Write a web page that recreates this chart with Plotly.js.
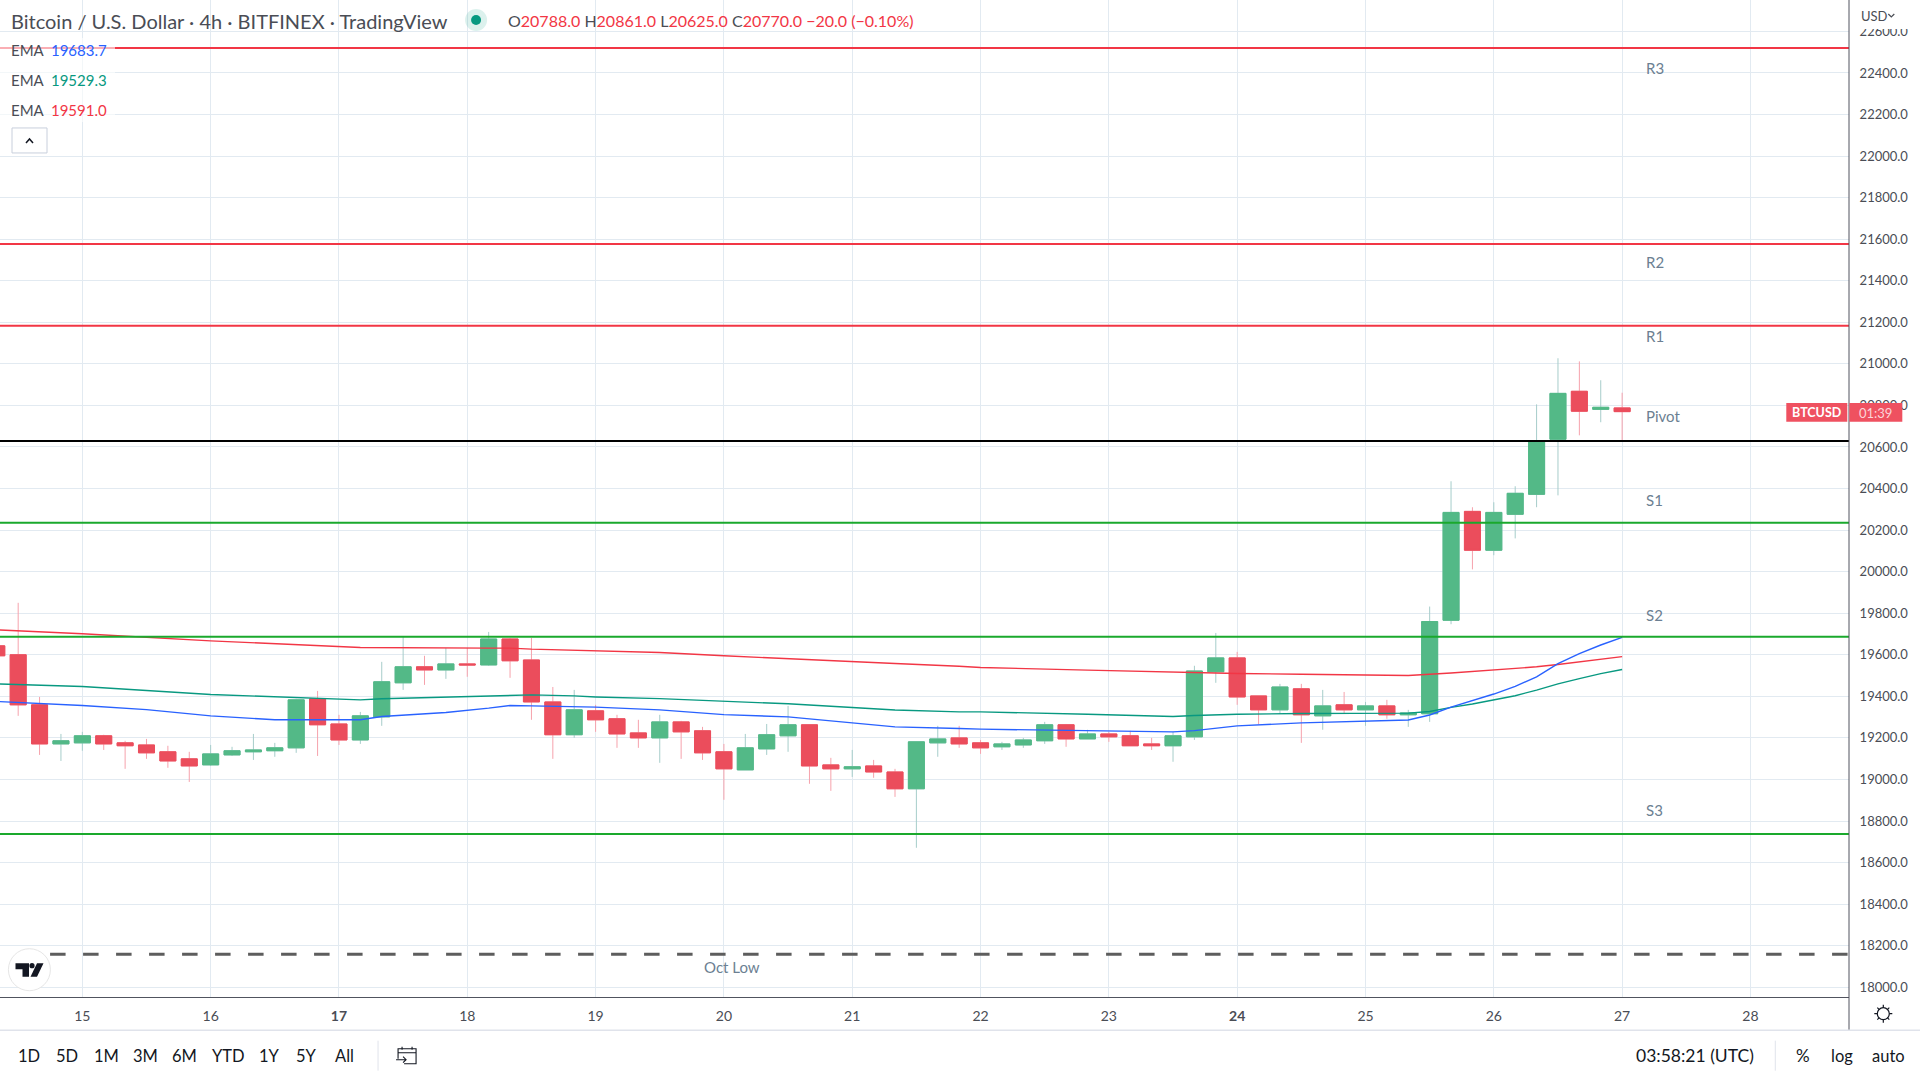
<!DOCTYPE html>
<html>
<head>
<meta charset="utf-8">
<script src="https://cdn.plot.ly/plotly-3.0.1.min.js"></script>
<style>html,body{margin:0;padding:0;background:#fff;overflow:hidden}#chart{width:1920px;height:1080px}</style>
</head>
<body>
<div id="chart"></div>
<script>
// 4h bars, first bar is 2022-10-14 08:00 UTC
const firstBar = Date.UTC(2022, 9, 14, 8);
const open  = [19643,19600,19359,19171,19176,19210,19176,19166,19133,19099,19070,19118,19133,19138,19152,19388,19267,19190,19301,19465,19542,19527,19556,
  19551,19676,19575,19373,19215,19330,19292,19224,19200,19277,19234,19133,19046,19147,19210,19263,19070,19051,19065,19036,18955,19176,19200,
  19176,19157,19166,19186,19263,19195,19219,19210,19171,19162,19205,19518,19585,19402,19335,19436,19306,19359,19335,19354,19311,19316,19766,20290,20103,20276,20372,20637,20868,20781,20788];
const high  = [19660,19850,19397,19219,19229,19215,19186,19195,19162,19133,19166,19157,19219,19176,19388,19426,19311,19325,19566,19690,19595,19633,19633,
  19710,19681,19681,19445,19431,19359,19311,19287,19311,19282,19253,19171,19219,19267,19354,19263,19104,19142,19094,19051,19181,19258,19258,
  19190,19181,19200,19277,19267,19239,19229,19234,19200,19229,19547,19705,19614,19402,19460,19460,19431,19421,19373,19383,19335,19832,20435,20310,20334,20411,20805,21027,21012,20921,20861];
const low   = [19580,19306,19118,19089,19138,19142,19051,19099,19056,18988,19065,19113,19094,19109,19128,19113,19166,19171,19258,19431,19455,19484,19494,
  19547,19489,19287,19099,19200,19229,19152,19152,19080,19099,19094,18902,19046,19118,19133,18979,18945,19012,19008,18916,18671,19109,19152,
  19123,19142,19152,19171,19157,19195,19181,19162,19142,19085,19190,19465,19359,19265,19316,19176,19239,19316,19258,19292,19253,19277,19747,20011,20079,20160,20310,20367,20656,20719,20625];
const close = [19595,19359,19171,19186,19210,19171,19162,19128,19089,19065,19123,19138,19142,19152,19383,19263,19190,19306,19470,19542,19527,19556,19551,
  19676,19571,19373,19215,19335,19287,19219,19200,19277,19229,19128,19051,19152,19215,19263,19065,19051,19061,19036,18955,19181,19195,19171,
  19152,19171,19190,19263,19195,19219,19205,19162,19162,19210,19522,19585,19397,19335,19445,19311,19354,19335,19354,19311,19320,19760,20285,20103,20285,20377,20629,20858,20772,20791,20770];

// EMA readings: bar number (0 = first bar) and value
const emaBlueBars  = [0,4,7,10,13,17,18,21,23,24,25,28,31,34,37,40,42,45,46,55,56,58,59,61,66,67,68,69,70,71,72,73,74,75,76];
const emaBlue      = [19375,19356,19336,19306,19287,19287,19303,19322,19343,19356,19354,19348,19335,19312,19301,19272,19253,19245,19242,19229,19235,19258,19263,19272,19286,19310,19348,19380,19411,19448,19494,19557,19605,19647,19683.7];
const emaGreenBars = [0,4,10,14,17,18,23,25,27,28,31,34,37,40,42,45,46,51,55,56,58,61,64,66,67,68,69,70,71,72,73,74,75,76];
const emaGreen     = [19460,19447,19409,19393,19383,19388,19404,19407,19402,19397,19389,19377,19364,19346,19334,19325,19325,19314,19303,19308,19314,19317,19319,19319,19327,19347,19363,19383,19403,19430,19460,19485,19509,19529.3];
const emaRedBars   = [0,4,10,17,23,24,25,28,31,34,37,40,42,45,46,51,54,56,58,61,64,66,68,70,72,73,74,75,76];
const emaRed       = [19720,19701,19667,19635,19632,19632,19627,19619,19611,19595,19580,19566,19558,19545,19539,19526,19518,19514,19510,19506,19501,19500,19512,19526,19542,19553,19566,19581,19591];

const levelNames  = ['R3','R2','R1','Pivot','S1','S2','S3','Oct Low'];
const levelValues = [22520,21577,21183,20629,20235,19687,18738,18159];
const levelColors = ['#f23645','#f23645','#f23645','#000000','#1aa92c','#1aa92c','#1aa92c','#5d5d5d'];
const labelValues = [22426,21490,21136,20748,20346,19792,18851,18095];

const dayTickVals = ['2022-10-15','2022-10-16','2022-10-17','2022-10-18','2022-10-19','2022-10-20','2022-10-21','2022-10-22','2022-10-23','2022-10-24','2022-10-25','2022-10-26','2022-10-27','2022-10-28'];
const dayTickText = ['15','16','<b>17</b>','18','19','20','21','22','23','<b>24</b>','25','26','27','28'];
const priceTicks  = [18000,18200,18400,18600,18800,19000,19200,19400,19600,19800,20000,20200,20400,20600,20800,21000,21200,21400,21600,21800,22000,22200,22400,22600];
const rangeButtons = ['1D','5D','1M','3M','6M','YTD','1Y','5Y','All'];
const rangeCenters = [29,67,106,145,184,228,269,306,344];

const FONT = 'Lato, "Noto Sans", sans-serif';
const W = 1848.7, H = 997.3;
const X = p => p / W, Y = p => 1 - p / H;
const barTime = i => new Date(firstBar + i * 4 * 3600e3).toISOString().slice(0, 16).replace('T', ' ');
const dates = open.map((_, i) => barTime(i));
const xStart = '2022-10-14 08:36', xEnd = '2022-10-28 18:26';
const bodyHigh = open.map((o, i) => Math.max(o, close[i]));
const bodyLow  = open.map((o, i) => Math.min(o, close[i]));

const GREEN = '#53b987', RED = '#eb4d5c', WICKG = '#a6cdca', WICKR = '#f6a2ac';

const emaTrace = (bars, vals, color) => ({type:'scatter', mode:'lines', x:bars.map(barTime), y:vals, line:{color, width:1.4}, hoverinfo:'skip', showlegend:false});
const traces = [
  emaTrace(emaRedBars, emaRed, '#f23645'),
  emaTrace(emaGreenBars, emaGreen, '#089981'),
  emaTrace(emaBlueBars, emaBlue, '#2962ff'),
  {type:'candlestick', x:dates, open, high, low, close, whiskerwidth:0, hoverinfo:'skip', showlegend:false,
   increasing:{line:{color:WICKG, width:1}, fillcolor:GREEN}, decreasing:{line:{color:WICKR, width:1}, fillcolor:RED}},
  {type:'candlestick', x:dates, open, high:bodyHigh, low:bodyLow, close, whiskerwidth:0, hoverinfo:'skip', showlegend:false,
   increasing:{line:{color:GREEN, width:1}, fillcolor:GREEN}, decreasing:{line:{color:RED, width:1}, fillcolor:RED}}
];
levelNames.forEach((n, i) => {
  const dashed = n === 'Oct Low';
  traces.push({type:'scatter', mode:'lines', x: dashed ? ['2022-10-14 17:58', xEnd] : [xStart, xEnd], y:[levelValues[i], levelValues[i]],
    line:{color:levelColors[i], width: dashed ? 3 : 2, dash: dashed ? '15.5px,17.5px' : 'solid'}, hoverinfo:'skip', showlegend:false});
});

const ann = (text, px, py, o = {}) => Object.assign({text, x:X(px), y:Y(py), xref:'paper', yref:'paper', showarrow:false,
  xanchor:'left', yanchor:'middle', font:{family:FONT, size:15, color:'#131722'}, borderpad:0}, o);

const annotations = [];
levelNames.forEach((n, i) => {
  const oct = n === 'Oct Low';
  annotations.push({text:n, x: oct ? '2022-10-20 01:30' : '2022-10-27 04:00', y:labelValues[i], xref:'x', yref:'y', showarrow:false,
    xanchor: oct ? 'center' : 'left', yanchor:'middle', font:{family:FONT, size:15, color:'#6c7f92'}});
});
const R = '#f23645';
const val = (t, c) => `<span style="color:${c}">${t}</span>`;
annotations.push(
  ann('Bitcoin / U.S. Dollar · 4h · BITFINEX · TradingView', 10, 21, {font:{family:FONT, size:20, color:'#4a4d55'}}),
  ann('O' + val('20788.0', R) + ' H' + val('20861.0', R) + ' L' + val('20625.0', R) + ' C' + val('20770.0', R) + ' ' + val('−20.0 (−0.10%)', R), 507, 21, {font:{family:FONT, size:16, color:'#4a4d55'}}),
  ann('EMA  ' + val('19683.7', '#2962ff'), 10, 50.5, {font:{family:FONT, size:15, color:'#4a4d55'}}),
  ann('EMA  ' + val('19529.3', '#089981'), 10, 80.5, {font:{family:FONT, size:15, color:'#4a4d55'}}),
  ann('EMA  ' + val('19591.0', R), 10, 110, {font:{family:FONT, size:15, color:'#4a4d55'}}),
  ann('USD', 1860, 16, {font:{family:FONT, size:13, color:'#4a4d55'}}),
  ann('<b>BTCUSD</b>', 1816.5, 413, {xanchor:'center', font:{family:FONT, size:12.5, color:'#ffffff'}}),
  ann('01:39', 1875, 413, {xanchor:'center', font:{family:FONT, size:13, color:'#fbd5d9'}}),
  ann('03:58:21 (UTC)', 1695, 1056, {xanchor:'center', font:{family:FONT, size:17.5, color:'#131722'}}),
  ann('%', 1803, 1056, {xanchor:'center', font:{family:FONT, size:17, color:'#131722'}}),
  ann('log', 1842, 1056, {xanchor:'center', font:{family:FONT, size:16.5, color:'#131722'}}),
  ann('auto', 1888, 1056, {xanchor:'center', font:{family:FONT, size:16.5, color:'#131722'}})
);
rangeButtons.forEach((b, i) => annotations.push(ann(b, rangeCenters[i], 1056, {xanchor:'center', font:{family:FONT, size:16.5, color:'#131722'}})));

const rect = (x0, y0, x1, y1, fill, line) => ({type:'rect', xref:'paper', yref:'paper', x0:X(x0), x1:X(x1), y0:Y(y0), y1:Y(y1), fillcolor:fill, line:line || {width:0}, layer:'above'});
const circ = (cx, cy, r, fill, line) => ({type:'circle', xref:'paper', yref:'paper', x0:X(cx - r), x1:X(cx + r), y0:Y(cy - r), y1:Y(cy + r), fillcolor:fill, line:line || {width:0}, layer:'above'});
const seg = (pts, color, w, fill) => ({type:'path', xref:'paper', yref:'paper', layer:'above',
  path: pts.map(s => s.map((p, j) => (j ? 'L' : 'M') + X(p[0]) + ',' + Y(p[1])).join(' ') + (fill ? ' Z' : '')).join(' '),
  line: fill ? {width:0} : {color, width:w}, fillcolor: fill ? color : 'rgba(0,0,0,0)'});

const shapes = [
  // white backing of legend rows
  rect(0, 38, 115, 122, 'rgba(255,255,255,0.6)'),
  // price axis lines and bottom bar
  seg([[[W, 0], [W, 1030.5]]], '#50535e', 1),
  seg([[[0, 1030.5], [1920, 1030.5]]], '#e0e3eb', 1.5),
  seg([[[378, 1041], [378, 1071]]], '#e0e3eb', 1),
  seg([[[1775, 1041], [1775, 1071]]], '#e0e3eb', 1),
  // currency header over the price scale
  rect(W + 1, 0, 1920, 29, '#ffffff'),
  seg([[[1888, 14], [1891, 17], [1894, 14]]], '#4a4d55', 1.2),
  // last price tag
  rect(1786, 403, 1847, 422, '#ef5160'),
  rect(1849, 403, 1902, 422, '#ef5160'),
  // status dot
  circ(476, 20, 11, 'rgba(8,153,129,0.14)'),
  circ(476, 20, 5, '#089981'),
  // collapse button
  rect(12, 128, 47, 153, '#ffffff', {color:'#c8cfdc', width:1}),
  seg([[[26, 143], [29.5, 139], [33, 143]]], '#131722', 1.5),
  // logo
  circ(29.4, 970, 21, '#ffffff', {color:'#e6e6e6', width:1}),
  seg([[[15.5, 963.5], [29, 963.5], [29, 977], [22.5, 977], [22.5, 969.5], [15.5, 969.5]]], '#131722', 0, true),
  circ(32, 966, 2.6, '#131722'),
  seg([[[37, 963.5], [43.5, 963.5], [37, 977], [30.5, 977]]], '#131722', 0, true),
  // calendar icon
  seg([[[398, 1059], [398, 1049], [416, 1049], [416, 1064], [404, 1064]], [[398, 1053], [416, 1053]], [[402, 1047], [402, 1050]], [[412, 1047], [412, 1050]],
       [[396, 1060], [406, 1060]], [[403, 1057], [406, 1060], [403, 1063]]], '#131722', 1.1),
  // settings icon
  circ(1883, 1014, 6, 'rgba(0,0,0,0)', {color:'#131722', width:1.2}),
  seg([[[1883, 1005], [1883, 1008]], [[1883, 1020], [1883, 1023]], [[1874, 1014], [1877, 1014]], [[1889, 1014], [1892, 1014]],
       [[1877, 1008], [1879, 1010]], [[1889, 1008], [1887, 1010]], [[1877, 1020], [1879, 1018]], [[1889, 1020], [1887, 1018]]], '#131722', 1.2)
];

const layout = {
  width:1920, height:1080, margin:{l:0, r:1920 - W, t:0, b:1080 - H, pad:0},
  paper_bgcolor:'#ffffff', plot_bgcolor:'#ffffff', showlegend:false, boxgap:0.25, boxgroupgap:0, dragmode:false,
  xaxis:{type:'date', range:[xStart, xEnd], rangeslider:{visible:false}, tickmode:'array', tickvals:dayTickVals, ticktext:dayTickText,
    showgrid:true, gridcolor:'#e2eaf1', gridwidth:1, showline:true, linecolor:'#50535e', linewidth:1, ticks:'outside', ticklen:6, tickcolor:'rgba(0,0,0,0)',
    tickfont:{family:FONT, size:14, color:'#4a4d55'}, tickangle:0, zeroline:false},
  yaxis:{side:'right', range:[17953, 22751], tickmode:'array', tickvals:priceTicks, ticktext:priceTicks.map(v => v.toFixed(1)),
    showgrid:true, gridcolor:'#e2eaf1', gridwidth:1, showline:false, ticks:'outside', ticklen:7, tickcolor:'rgba(0,0,0,0)',
    tickfont:{family:FONT, size:13, color:'#4a4d55'}, zeroline:false},
  annotations, shapes
};
Plotly.newPlot('chart', traces, layout, {displayModeBar:false, staticPlot:true});
</script>
</body>
</html>
